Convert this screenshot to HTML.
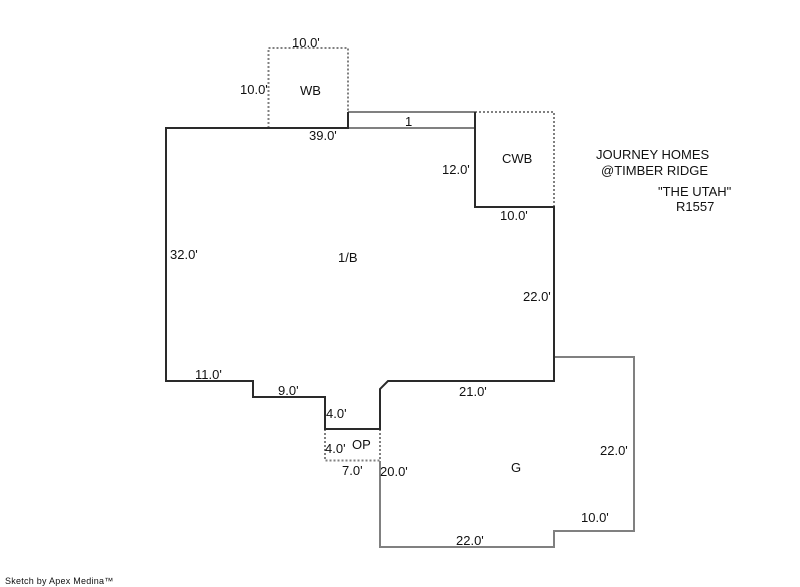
<!DOCTYPE html>
<html>
<head>
<meta charset="utf-8">
<style>
html,body{margin:0;padding:0;background:#fff;width:800px;height:587px;overflow:hidden}
svg{display:block}
text{font-family:"Liberation Sans",Arial,sans-serif;font-size:13px;fill:#111}
</style>
</head>
<body>
<svg width="800" height="587" viewBox="0 0 800 587" xmlns="http://www.w3.org/2000/svg">
<rect width="800" height="587" fill="#fff"/>
<g fill="none" stroke="#808080" stroke-width="2" stroke-dasharray="2 2">
<path d="M268.5 128V48H348V112"/>
<path d="M475 112H554V207"/>
<path d="M325 429V460.5H380V429"/>
</g>
<g fill="none" stroke="#808080" stroke-width="2">
<path d="M348 112H475"/>
<path d="M348 128H475"/>
<path d="M554 357H634V531H554V547H380V461"/>
</g>
<path d="M348 112V128H166V381H253V397H325V429H380V389L388 381H554V207H475V112" fill="none" stroke="#2a2a2a" stroke-width="2"/>
<text x="292" y="47">10.0'</text>
<text x="240" y="94">10.0'</text>
<text x="300" y="95">WB</text>
<text x="405" y="126">1</text>
<text x="309" y="140">39.0'</text>
<text x="502" y="163">CWB</text>
<text x="442" y="174">12.0'</text>
<text x="500" y="220">10.0'</text>
<text x="170" y="259">32.0'</text>
<text x="338" y="262">1/B</text>
<text x="523" y="301">22.0'</text>
<text x="195" y="379">11.0'</text>
<text x="278" y="395">9.0'</text>
<text x="459" y="396">21.0'</text>
<text x="326" y="418">4.0'</text>
<text x="325" y="453">4.0'</text>
<text x="352" y="449">OP</text>
<text x="600" y="455">22.0'</text>
<text x="511" y="472">G</text>
<text x="342" y="475">7.0'</text>
<text x="380" y="476">20.0'</text>
<text x="581" y="522">10.0'</text>
<text x="456" y="545">22.0'</text>
<text x="596" y="159">JOURNEY HOMES</text>
<text x="601" y="175">@TIMBER RIDGE</text>
<text x="658" y="196">"THE UTAH"</text>
<text x="676" y="211">R1557</text>
<text x="5" y="584" style="font-size:9px" letter-spacing="0.25">Sketch by Apex Medina™</text>
</svg>
</body>
</html>
